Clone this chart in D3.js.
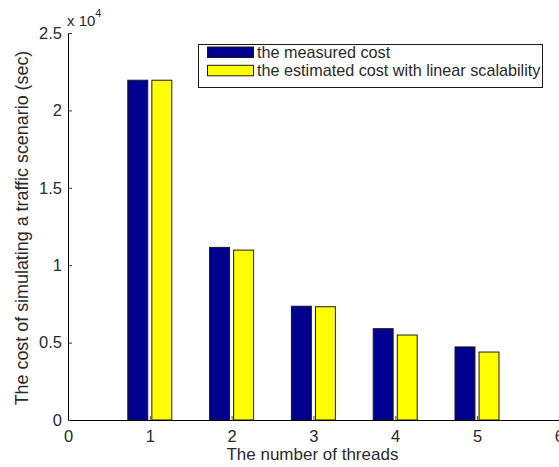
<!DOCTYPE html>
<html>
<head>
<meta charset="utf-8">
<script src="https://cdn.jsdelivr.net/npm/d3@7"></script>
<style>
  html, body { margin: 0; padding: 0; background: #fff; }
  svg { display: block; font-family: "Liberation Sans", Arial, Helvetica, sans-serif; }
</style>
</head>
<body>
<svg id="chart" width="559" height="467"></svg>
<script>
// Number of threads on the x axis
const threads = [1, 2, 3, 4, 5];
// Simulation cost in seconds
const measuredCost = [21950, 11150, 7350, 5900, 4720];
const estimatedCost = [21950, 10975, 7317, 5488, 4390];
const seriesNames = ["the measured cost", "the estimated cost with linear scalability"];
const seriesColors = ["#00008F", "#FFFF00"];
const xTicks = [0, 1, 2, 3, 4, 5, 6];
const yTicks = [0, 5000, 10000, 15000, 20000, 25000];

const svg = d3.select("#chart");
const plotLeft = 68, plotRight = 559, plotTop = 33, plotBottom = 420;
const textColor = "#2a2a2a";

const x = d3.scaleLinear().domain([0, 6]).range([plotLeft, plotLeft + (6 * 81.8)]);
const y = d3.scaleLinear().domain([0, 25000]).range([plotBottom, plotTop]);
const inner = d3.scaleBand().domain([0, 1]).range([-22, 22]).paddingInner(0.17);

const series = [measuredCost, estimatedCost];

// bars
series.forEach((vals, si) => {
  svg.append("g")
    .selectAll("rect")
    .data(threads.map((t, i) => ({ t, v: vals[i] })))
    .join("rect")
    .attr("x", d => x(d.t) + inner(si))
    .attr("width", inner.bandwidth())
    .attr("y", d => y(d.v))
    .attr("height", d => plotBottom - y(d.v))
    .attr("fill", seriesColors[si])
    .attr("stroke", "#1a1a1a")
    .attr("stroke-width", 1);
});

// x axis (ticks point inward)
const xAxis = d3.axisBottom(x).tickValues(xTicks).tickSize(-4).tickPadding(10).tickFormat(d3.format("d"));
const gx = svg.append("g").attr("transform", `translate(0,${plotBottom})`).call(xAxis);
gx.select(".domain").attr("stroke", "#000").attr("d", `M${plotLeft},0.5H${plotRight}`);
gx.selectAll(".tick line").attr("stroke", "#555");
gx.selectAll("text").attr("font-size", 16.5).attr("fill", textColor).attr("font-family", null);

// y axis
const yAxis = d3.axisLeft(y).tickValues(yTicks).tickSize(-4).tickPadding(6).tickFormat(d => d3.format("~g")(d / 1e4));
const gy = svg.append("g").attr("transform", `translate(${plotLeft},0)`).call(yAxis);
gy.select(".domain").attr("stroke", "#000").attr("d", `M0.5,${plotTop}V${plotBottom}`);
gy.selectAll(".tick line").attr("stroke", "#333");
gy.selectAll("text").attr("font-size", 16.5).attr("fill", textColor).attr("font-family", null);

// exponent label
const exp = svg.append("text").attr("x", 67).attr("y", 26).attr("font-size", 15).attr("fill", textColor);
exp.append("tspan").text("x 10");
exp.append("tspan").attr("dy", -9).attr("font-size", 11).text("4");

// axis titles
svg.append("text")
  .attr("x", (x(0) + x(6)) / 2 - 1).attr("y", 460)
  .attr("text-anchor", "middle").attr("font-size", 17).attr("fill", textColor)
  .text("The number of threads");
svg.append("text")
  .attr("transform", `translate(28,228) rotate(-90)`)
  .attr("text-anchor", "middle").attr("font-size", 17.9).attr("fill", textColor)
  .text("The cost of simulating a traffic scenario (sec)");

// legend
const lg = svg.append("g");
lg.append("rect").attr("x", 198.5).attr("y", 44.5).attr("width", 344).attr("height", 43)
  .attr("fill", "#fff").attr("stroke", "#1a1a1a");
seriesNames.forEach((name, i) => {
  const yy = 47 + i * 18.3;
  lg.append("rect").attr("x", 207.5).attr("y", yy).attr("width", 46).attr("height", 10.5)
    .attr("fill", seriesColors[i]).attr("stroke", "#1a1a1a");
  lg.append("text").attr("x", 257).attr("y", yy + 10.5).attr("font-size", 16.2).attr("fill", textColor).text(name);
});
</script>
</body>
</html>
